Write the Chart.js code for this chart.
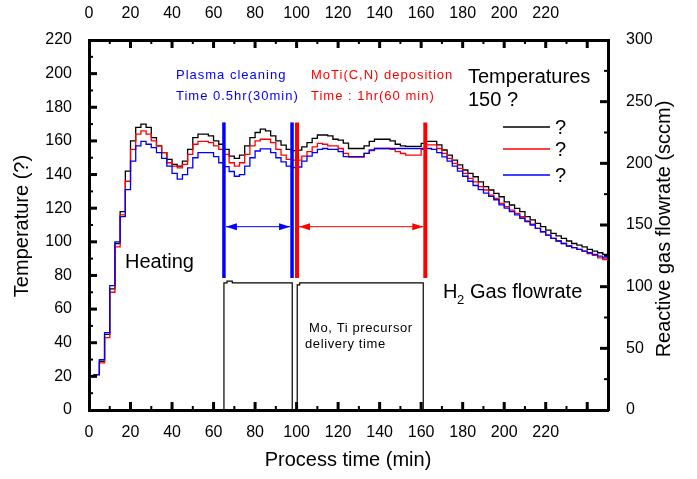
<!DOCTYPE html>
<html>
<head>
<meta charset="utf-8">
<script src="https://cdn.jsdelivr.net/npm/chart.js@4.4.1/dist/chart.umd.min.js"></script>
<style>
  body { margin: 0; background: #fff; }
  #wrap { width: 697px; height: 479px; }
</style>
</head>
<body>
<div id="wrap"><canvas id="tempChart" width="697" height="479"></canvas></div>
<script>
// process time (min), one reading every 2.5 min
const times = [
  0, 2.5, 5, 7.5, 10, 12.5, 15, 17.5, 20, 22.5,
  25, 27.5, 30, 32.5, 35, 37.5, 40, 42.5, 45, 47.5,
  50, 52.5, 55, 57.5, 60, 62.5, 65, 67.5, 70, 72.5,
  75, 77.5, 80, 82.5, 85, 87.5, 90, 92.5, 95, 97.5,
  100, 102.5, 105, 107.5, 110, 112.5, 115, 117.5, 120, 122.5,
  125, 127.5, 130, 132.5, 135, 137.5, 140, 142.5, 145, 147.5,
  150, 152.5, 155, 157.5, 160, 162.5, 165, 167.5, 170, 172.5,
  175, 177.5, 180, 182.5, 185, 187.5, 190, 192.5, 195, 197.5,
  200, 202.5, 205, 207.5, 210, 212.5, 215, 217.5, 220, 222.5,
  225, 227.5, 230, 232.5, 235, 237.5, 240, 242.5, 245, 247.5,
  250
];

const tempBlack = [
  20, 21, 29, 45, 72, 99, 118, 142, 160, 168,
  170, 168, 162, 157, 153, 149, 146, 145, 148, 155,
  162, 164, 164, 163, 160, 158, 155, 151, 149.6, 151.6,
  157, 162, 165, 167, 166, 163, 160, 157.5, 155, 154.2,
  154.5, 156.5, 159, 161.5, 163.5, 163.5, 163, 161, 160.5, 158.7,
  155.5, 155.5, 155.5, 157, 159.7, 161, 161, 161, 160, 158,
  157, 156.8, 156.8, 156.8, 158.5, 159.7, 159.7, 157.6, 154.6, 151.6,
  148.6, 145.7, 142.7, 140.7, 138.7, 135.7, 132.8, 130.8, 128.8, 126.8,
  123.8, 121.9, 119.9, 117.9, 115, 113, 111, 109, 107, 105,
  103.5, 102, 100.5, 99, 98, 97, 95.5, 94.5, 93.5, 92.5,
  91.5
];

const tempRed = [
  20, 21, 28, 43, 70, 97, 116, 136, 155, 164,
  166, 164, 160, 157, 153, 147, 145, 144, 146, 152,
  158, 159.7, 159.7, 159, 157, 155, 152, 147, 145, 147,
  152, 157, 160, 161, 161, 159, 155, 151.6, 149, 148.6,
  148.6, 151, 153.6, 156.5, 158.5, 158, 157, 157, 155.5, 152.6,
  150.3, 150.3, 150.3, 152.6, 154.2, 155.5, 155.5, 155.5, 155, 153.6,
  152.5, 151.6, 151.6, 151.6, 155, 157.6, 157.6, 155.5, 152.6, 149.6,
  146.6, 143.7, 140.7, 137.7, 135.7, 132.8, 130.8, 127.8, 125.8, 122.9,
  120.9, 118.9, 116.9, 114.9, 112.5, 110.5, 108, 106, 104, 102,
  100.5, 99, 97.5, 96.5, 95.5, 94.5, 93, 92, 90.5, 89.5,
  88.5
];

const tempBlue = [
  20, 21, 30, 46, 74, 100, 115, 131, 148, 157,
  159.7, 158, 156, 153, 149.6, 145, 140.7, 137.3, 140, 144,
  150, 153, 153, 153, 150.6, 147, 144.7, 141.8, 139, 140,
  145, 150, 154, 155.3, 155.3, 153, 150, 147.5, 145, 144.2,
  144.5, 148, 151, 153, 155, 155.5, 155, 155, 153.6, 150.6,
  150.6, 150.6, 150.6, 152.6, 154.6, 155.5, 155.5, 155.5, 155.5, 155.5,
  155.5, 155.5, 155.5, 155.5, 155.5, 155.5, 155, 153, 150.5, 148,
  145, 142, 139, 136, 133.5, 131, 129, 127, 125, 122,
  120, 118, 116, 114, 112, 110, 108, 106, 104, 102,
  100.5, 99, 97.5, 96.5, 95.5, 94.5, 93.5, 92.5, 91.5, 90.5,
  90
];

// H2 gas flowrate (sccm), right axis
const flowTimes = [0, 65, 66.5, 69, 97.9, 100.3, 101.5, 161, 250];
const flowRate  = [0, 103, 104.5, 103, 0, 101.5, 103, 0, 0];

// process windows (min) and marker span (deg C)
const cleanWindow = [65, 97.8];
const depoWindow = [100.2, 162];
const markerSpan = [78.5, 171];
const arrowTemp = 109;

const toXY = (xs, ys) => xs.map((x, i) => ({ x: x, y: ys[i] }));
const vline = (t) => [{ x: t, y: markerSpan[0] }, { x: t, y: markerSpan[1] }];

const FONT = "'Liberation Sans', Arial, sans-serif";

const decor = {
  id: 'decor',
  afterDatasetsDraw(chart) {
    const { ctx, scales } = chart;
    const x = scales.x, y = scales.y, y2 = scales.y2;
    const area = chart.chartArea;
    ctx.save();

    // inward tick marks
    ctx.strokeStyle = '#000';
    const mark = (x0, y0, x1, y1, w) => {
      ctx.lineWidth = w;
      ctx.beginPath(); ctx.moveTo(x0, y0); ctx.lineTo(x1, y1); ctx.stroke();
    };
    for (let v = 10; v < 250; v += 10) {
      const px = x.getPixelForValue(v);
      const major = v % 20 === 0;
      const len = major ? 8 : 4, w = major ? 3 : 2;
      mark(px, area.bottom, px, area.bottom - len, w);
      mark(px, area.top, px, area.top + len, w);
    }
    for (let v = 10; v < 220; v += 10) {
      const py = y.getPixelForValue(v);
      const major = v % 20 === 0;
      mark(area.left, py, area.left + (major ? 8 : 4), py, major ? 3 : 2);
    }
    for (let v = 25; v < 300; v += 25) {
      const py = y2.getPixelForValue(v);
      const major = v % 50 === 0;
      mark(area.right, py, area.right - (major ? 8 : 4), py, major ? 3 : 2);
    }

    // double arrows between the markers
    const ay = y.getPixelForValue(arrowTemp);
    const arrow = (t0, t1, color) => {
      const a = x.getPixelForValue(t0) + 2, b = x.getPixelForValue(t1) - 2;
      ctx.strokeStyle = color; ctx.fillStyle = color; ctx.lineWidth = 1;
      ctx.beginPath(); ctx.moveTo(a, ay); ctx.lineTo(b, ay); ctx.stroke();
      ctx.beginPath(); ctx.moveTo(a, ay); ctx.lineTo(a + 11, ay - 3.5); ctx.lineTo(a + 11, ay + 3.5); ctx.fill();
      ctx.beginPath(); ctx.moveTo(b, ay); ctx.lineTo(b - 11, ay - 3.5); ctx.lineTo(b - 11, ay + 3.5); ctx.fill();
    };
    arrow(cleanWindow[0], cleanWindow[1], '#0000ff');
    arrow(depoWindow[0], depoWindow[1], '#ff0000');

    // legend
    const legend = [['#000000', 127], ['#ff0000', 149], ['#0000ff', 175]];
    ctx.lineWidth = 1.3;
    ctx.font = '20px ' + FONT;
    ctx.textBaseline = 'middle';
    ctx.textAlign = 'left';
    legend.forEach(([c, ly]) => {
      ctx.strokeStyle = c;
      ctx.beginPath(); ctx.moveTo(503, ly); ctx.lineTo(550, ly); ctx.stroke();
      ctx.fillStyle = '#000';
      ctx.fillText('?', 555, ly + 1);
    });

    // annotations
    const text = (s, tx, ty, size, color, spacing) => {
      ctx.font = size + 'px ' + FONT;
      ctx.fillStyle = color;
      ctx.letterSpacing = (spacing || 0) + 'px';
      ctx.fillText(s, tx, ty);
    };
    ctx.textBaseline = 'alphabetic';
    text('Plasma cleaning', 176, 79, 13, '#0000ff', 1);
    text('Time 0.5hr(30min)', 176, 100, 13, '#0000ff', 1);
    text('MoTi(C,N) deposition', 311, 79, 13, '#ff0000', 1);
    text('Time : 1hr(60 min)', 311, 100, 13, '#ff0000', 1);
    text('Temperatures', 468, 83, 20, '#000', 0);
    text('150 ?', 468, 106, 20, '#000', 0);
    text('Heating', 125, 268, 20, '#000', 0);
    text('H', 443, 298, 20, '#000', 0);
    text('2', 457, 304, 13, '#000', 0);
    text('Gas flowrate', 470, 298, 20, '#000', 0);
    text('Mo, Ti precursor', 309, 332, 13, '#000', 0.6);
    text('delivery time', 305, 348, 13, '#000', 0.6);

    // axis titles
    ctx.letterSpacing = '0px';
    ctx.font = '20px ' + FONT;
    ctx.fillStyle = '#000';
    ctx.textAlign = 'center';
    ctx.textBaseline = 'middle';
    ctx.fillText('Process time (min)', 348, 460);
    ctx.save();
    ctx.translate(22, 226); ctx.rotate(-Math.PI / 2);
    ctx.fillText('Temperature (?)', 0, 0);
    ctx.restore();
    ctx.save();
    ctx.translate(664, 229); ctx.rotate(-Math.PI / 2);
    ctx.fillText('Reactive gas flowrate (sccm)', 0, 0);
    ctx.restore();

    ctx.restore();
  }
};

const tickFont = { family: FONT, size: 16 };
const frame = { display: true, width: 3, color: '#000' };
const keepEvery = (step) => (scale) => {
  scale.ticks = scale.ticks.filter(t => t.value % step === 0);
};

new Chart(document.getElementById('tempChart'), {
  type: 'line',
  data: {
    datasets: [
      { data: vline(cleanWindow[0]), borderColor: '#0000ff', borderWidth: 3.5, yAxisID: 'y' },
      { data: vline(cleanWindow[1]), borderColor: '#0000ff', borderWidth: 3.5, yAxisID: 'y' },
      { data: vline(depoWindow[0]), borderColor: '#ff0000', borderWidth: 4, yAxisID: 'y' },
      { data: vline(depoWindow[1]), borderColor: '#ff0000', borderWidth: 4, yAxisID: 'y' },
      { label: 'blue', data: toXY(times, tempBlue), borderColor: '#0000ff', borderWidth: 1.3, stepped: 'before', yAxisID: 'y' },
      { label: 'red', data: toXY(times, tempRed), borderColor: '#ff0000', borderWidth: 1.3, stepped: 'before', yAxisID: 'y' },
      { label: 'black', data: toXY(times, tempBlack), borderColor: '#000000', borderWidth: 1.3, stepped: 'before', yAxisID: 'y' },
      { label: 'H2 flow', data: toXY(flowTimes, flowRate), borderColor: '#000000', borderWidth: 1.2, stepped: 'before', yAxisID: 'y2' }
    ]
  },
  options: {
    responsive: false,
    animation: false,
    layout: { padding: 0 },
    elements: { point: { radius: 0 }, line: { tension: 0, fill: false } },
    plugins: { legend: { display: false }, tooltip: { enabled: false } },
    scales: {
      x: {
        type: 'linear', position: 'bottom', min: 0, max: 250,
        grid: { display: false }, border: frame,
        ticks: { stepSize: 20, font: tickFont, color: '#000', padding: 5, maxRotation: 0, autoSkip: false },
        afterBuildTicks: keepEvery(20),
        afterFit: (s) => { s.height = 69; }
      },
      x2: {
        type: 'linear', position: 'top', min: 0, max: 250,
        grid: { display: false }, border: frame,
        ticks: { stepSize: 20, font: tickFont, color: '#000', padding: 9, maxRotation: 0, autoSkip: false },
        afterBuildTicks: keepEvery(20),
        afterFit: (s) => { s.height = 40; }
      },
      y: {
        position: 'left', min: 0, max: 220,
        grid: { display: false }, border: frame,
        ticks: { stepSize: 20, font: tickFont, color: '#000', padding: 9 },
        afterFit: (s) => { s.width = 89; }
      },
      y2: {
        position: 'right', min: 0, max: 300,
        grid: { display: false }, border: frame,
        ticks: { stepSize: 50, font: tickFont, color: '#000', padding: 10 },
        afterFit: (s) => { s.width = 89; }
      }
    }
  },
  plugins: [decor]
});
</script>
</body>
</html>
